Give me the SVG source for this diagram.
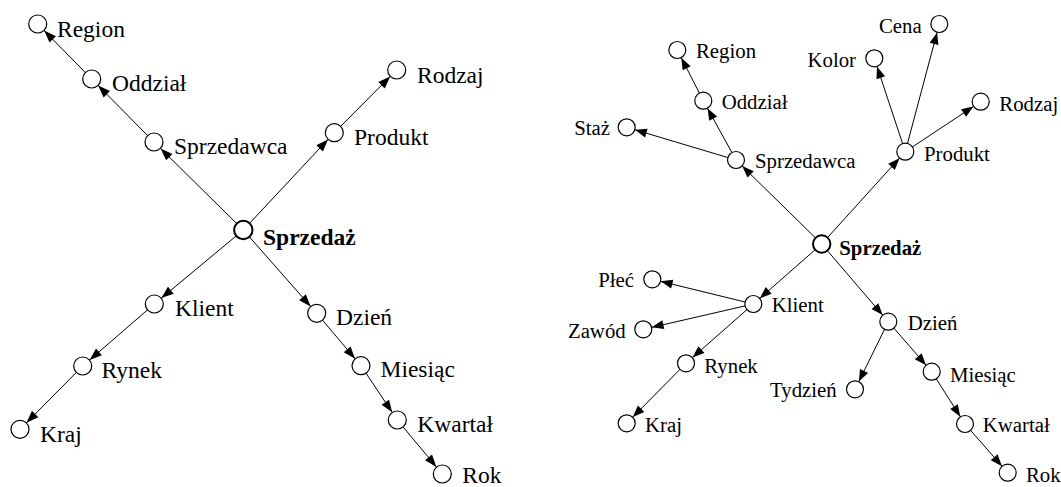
<svg xmlns="http://www.w3.org/2000/svg" width="1061" height="487" viewBox="0 0 1061 487">
<style>
.n{fill:#fff;stroke:#000;stroke-width:1.2}
.root{fill:#fff;stroke:#000;stroke-width:2}
.e{stroke:#000;stroke-width:1;fill:none}
.L .e{marker-end:url(#aL)}
.R .e{marker-end:url(#aR)}
.tl{font-size:23.5px}
.tr{font-size:20.8px}
.b{font-weight:bold}
</style>
<defs>
<marker id="aL" viewBox="-25 -6 25 12" markerWidth="25" markerHeight="12" refX="0" refY="0" orient="auto" markerUnits="userSpaceOnUse"><path d="M-21.5,-4.5 L-9.2,0 L-21.5,4.5 z" fill="#000"/></marker>
<marker id="aR" viewBox="-25 -6 25 12" markerWidth="25" markerHeight="12" refX="0" refY="0" orient="auto" markerUnits="userSpaceOnUse"><path d="M-20.5,-4.5 L-8.7,0 L-20.5,4.5 z" fill="#000"/></marker>
</defs>
<rect width="1061" height="487" fill="#fff"/>
<g id="connectors-left" class="L">
<line class="e" x1="243.3" y1="230" x2="154" y2="142"/>
<line class="e" x1="154" y1="142" x2="91.7" y2="79"/>
<line class="e" x1="91.7" y1="79" x2="37.7" y2="24"/>
<line class="e" x1="243.3" y1="230" x2="334.3" y2="132.7"/>
<line class="e" x1="334.3" y1="132.7" x2="396.7" y2="70"/>
<line class="e" x1="243.3" y1="230" x2="154.3" y2="304"/>
<line class="e" x1="154.3" y1="304" x2="82.7" y2="366"/>
<line class="e" x1="82.7" y1="366" x2="20" y2="429.3"/>
<line class="e" x1="243.3" y1="230" x2="316.7" y2="313.3"/>
<line class="e" x1="316.7" y1="313.3" x2="361" y2="365.7"/>
<line class="e" x1="361" y1="365.7" x2="397.3" y2="420"/>
<line class="e" x1="397.3" y1="420" x2="442.3" y2="474"/>
</g>
<g id="connectors-right" class="R">
<line class="e" x1="821.7" y1="244" x2="736" y2="160"/>
<line class="e" x1="736" y1="160" x2="703.3" y2="100.7"/>
<line class="e" x1="703.3" y1="100.7" x2="677.3" y2="50"/>
<line class="e" x1="736" y1="160" x2="626.7" y2="127.3"/>
<line class="e" x1="821.7" y1="244" x2="905.3" y2="151.7"/>
<line class="e" x1="905.3" y1="151.7" x2="874.3" y2="58.3"/>
<line class="e" x1="905.3" y1="151.7" x2="939.3" y2="24"/>
<line class="e" x1="905.3" y1="151.7" x2="980.7" y2="101.7"/>
<line class="e" x1="821.7" y1="244" x2="753.3" y2="304"/>
<line class="e" x1="753.3" y1="304" x2="652.3" y2="279.3"/>
<line class="e" x1="753.3" y1="304" x2="643.3" y2="329.3"/>
<line class="e" x1="753.3" y1="304" x2="686" y2="363.3"/>
<line class="e" x1="686" y1="363.3" x2="626.7" y2="423.3"/>
<line class="e" x1="821.7" y1="244" x2="888.3" y2="321.7"/>
<line class="e" x1="888.3" y1="321.7" x2="855" y2="389.3"/>
<line class="e" x1="888.3" y1="321.7" x2="931.7" y2="371.7"/>
<line class="e" x1="931.7" y1="371.7" x2="965" y2="424"/>
<line class="e" x1="965" y1="424" x2="1007.7" y2="472.7"/>
</g>
<g id="nodes" font-family="'Liberation Serif', 'DejaVu Serif', serif" fill="#000">
<g id="L-sprzedaz"><circle class="root" cx="243.3" cy="230" r="9.2"/><text class="tl b" x="263" y="245">Sprzedaż</text></g>
<g id="L-sprzedawca"><circle class="n" cx="154" cy="142" r="9"/><text class="tl" x="174" y="154">Sprzedawca</text></g>
<g id="L-oddzial"><circle class="n" cx="91.7" cy="79" r="9"/><text class="tl" x="112" y="90.5">Oddział</text></g>
<g id="L-region"><circle class="n" cx="37.7" cy="24" r="9"/><text class="tl" x="57" y="37">Region</text></g>
<g id="L-produkt"><circle class="n" cx="334.3" cy="132.7" r="9"/><text class="tl" x="354" y="145">Produkt</text></g>
<g id="L-rodzaj"><circle class="n" cx="396.7" cy="70" r="9"/><text class="tl" x="417" y="82.5">Rodzaj</text></g>
<g id="L-klient"><circle class="n" cx="154.3" cy="304" r="9"/><text class="tl" x="175" y="315.5">Klient</text></g>
<g id="L-rynek"><circle class="n" cx="82.7" cy="366" r="9"/><text class="tl" x="101.5" y="377.5">Rynek</text></g>
<g id="L-kraj"><circle class="n" cx="20" cy="429.3" r="9"/><text class="tl" x="40" y="441.5">Kraj</text></g>
<g id="L-dzien"><circle class="n" cx="316.7" cy="313.3" r="9"/><text class="tl" x="336" y="325">Dzień</text></g>
<g id="L-miesiac"><circle class="n" cx="361" cy="365.7" r="9"/><text class="tl" x="380.5" y="376.5">Miesiąc</text></g>
<g id="L-kwartal"><circle class="n" cx="397.3" cy="420" r="9"/><text class="tl" x="417.3" y="431.5">Kwartał</text></g>
<g id="L-rok"><circle class="n" cx="442.3" cy="474" r="9"/><text class="tl" x="462.3" y="483">Rok</text></g>
<g id="R-sprzedaz"><circle class="root" cx="821.7" cy="244" r="8.7"/><text class="tr b" x="839.3" y="255">Sprzedaż</text></g>
<g id="R-sprzedawca"><circle class="n" cx="736" cy="160" r="8.5"/><text class="tr" x="755" y="168.3">Sprzedawca</text></g>
<g id="R-oddzial"><circle class="n" cx="703.3" cy="100.7" r="8.5"/><text class="tr" x="721.7" y="109.3">Oddział</text></g>
<g id="R-region"><circle class="n" cx="677.3" cy="50" r="8.5"/><text class="tr" x="696" y="58.3">Region</text></g>
<g id="R-staz"><circle class="n" cx="626.7" cy="127.3" r="8.5"/><text class="tr" x="610" y="135" text-anchor="end">Staż</text></g>
<g id="R-produkt"><circle class="n" cx="905.3" cy="151.7" r="8.5"/><text class="tr" x="924" y="160.7">Produkt</text></g>
<g id="R-kolor"><circle class="n" cx="874.3" cy="58.3" r="8.5"/><text class="tr" x="856" y="66.7" text-anchor="end">Kolor</text></g>
<g id="R-cena"><circle class="n" cx="939.3" cy="24" r="8.5"/><text class="tr" x="921.7" y="32.7" text-anchor="end">Cena</text></g>
<g id="R-rodzaj"><circle class="n" cx="980.7" cy="101.7" r="8.5"/><text class="tr" x="999.3" y="110.7">Rodzaj</text></g>
<g id="R-klient"><circle class="n" cx="753.3" cy="304" r="8.5"/><text class="tr" x="771.7" y="311.7">Klient</text></g>
<g id="R-plec"><circle class="n" cx="652.3" cy="279.3" r="8.5"/><text class="tr" x="634" y="287.3" text-anchor="end">Płeć</text></g>
<g id="R-zawod"><circle class="n" cx="643.3" cy="329.3" r="8.5"/><text class="tr" x="625.7" y="337.7" text-anchor="end">Zawód</text></g>
<g id="R-rynek"><circle class="n" cx="686" cy="363.3" r="8.5"/><text class="tr" x="704.3" y="372.7">Rynek</text></g>
<g id="R-kraj"><circle class="n" cx="626.7" cy="423.3" r="8.5"/><text class="tr" x="645" y="431.7">Kraj</text></g>
<g id="R-dzien"><circle class="n" cx="888.3" cy="321.7" r="8.5"/><text class="tr" x="907.7" y="330">Dzień</text></g>
<g id="R-tydzien"><circle class="n" cx="855" cy="389.3" r="8.5"/><text class="tr" x="836.7" y="397.3" text-anchor="end">Tydzień</text></g>
<g id="R-miesiac"><circle class="n" cx="931.7" cy="371.7" r="8.5"/><text class="tr" x="950" y="381.7">Miesiąc</text></g>
<g id="R-kwartal"><circle class="n" cx="965" cy="424" r="8.5"/><text class="tr" x="982.7" y="432.3">Kwartał</text></g>
<g id="R-rok"><circle class="n" cx="1007.7" cy="472.7" r="8.5"/><text class="tr" x="1026" y="481.7">Rok</text></g>
</g>
</svg>
